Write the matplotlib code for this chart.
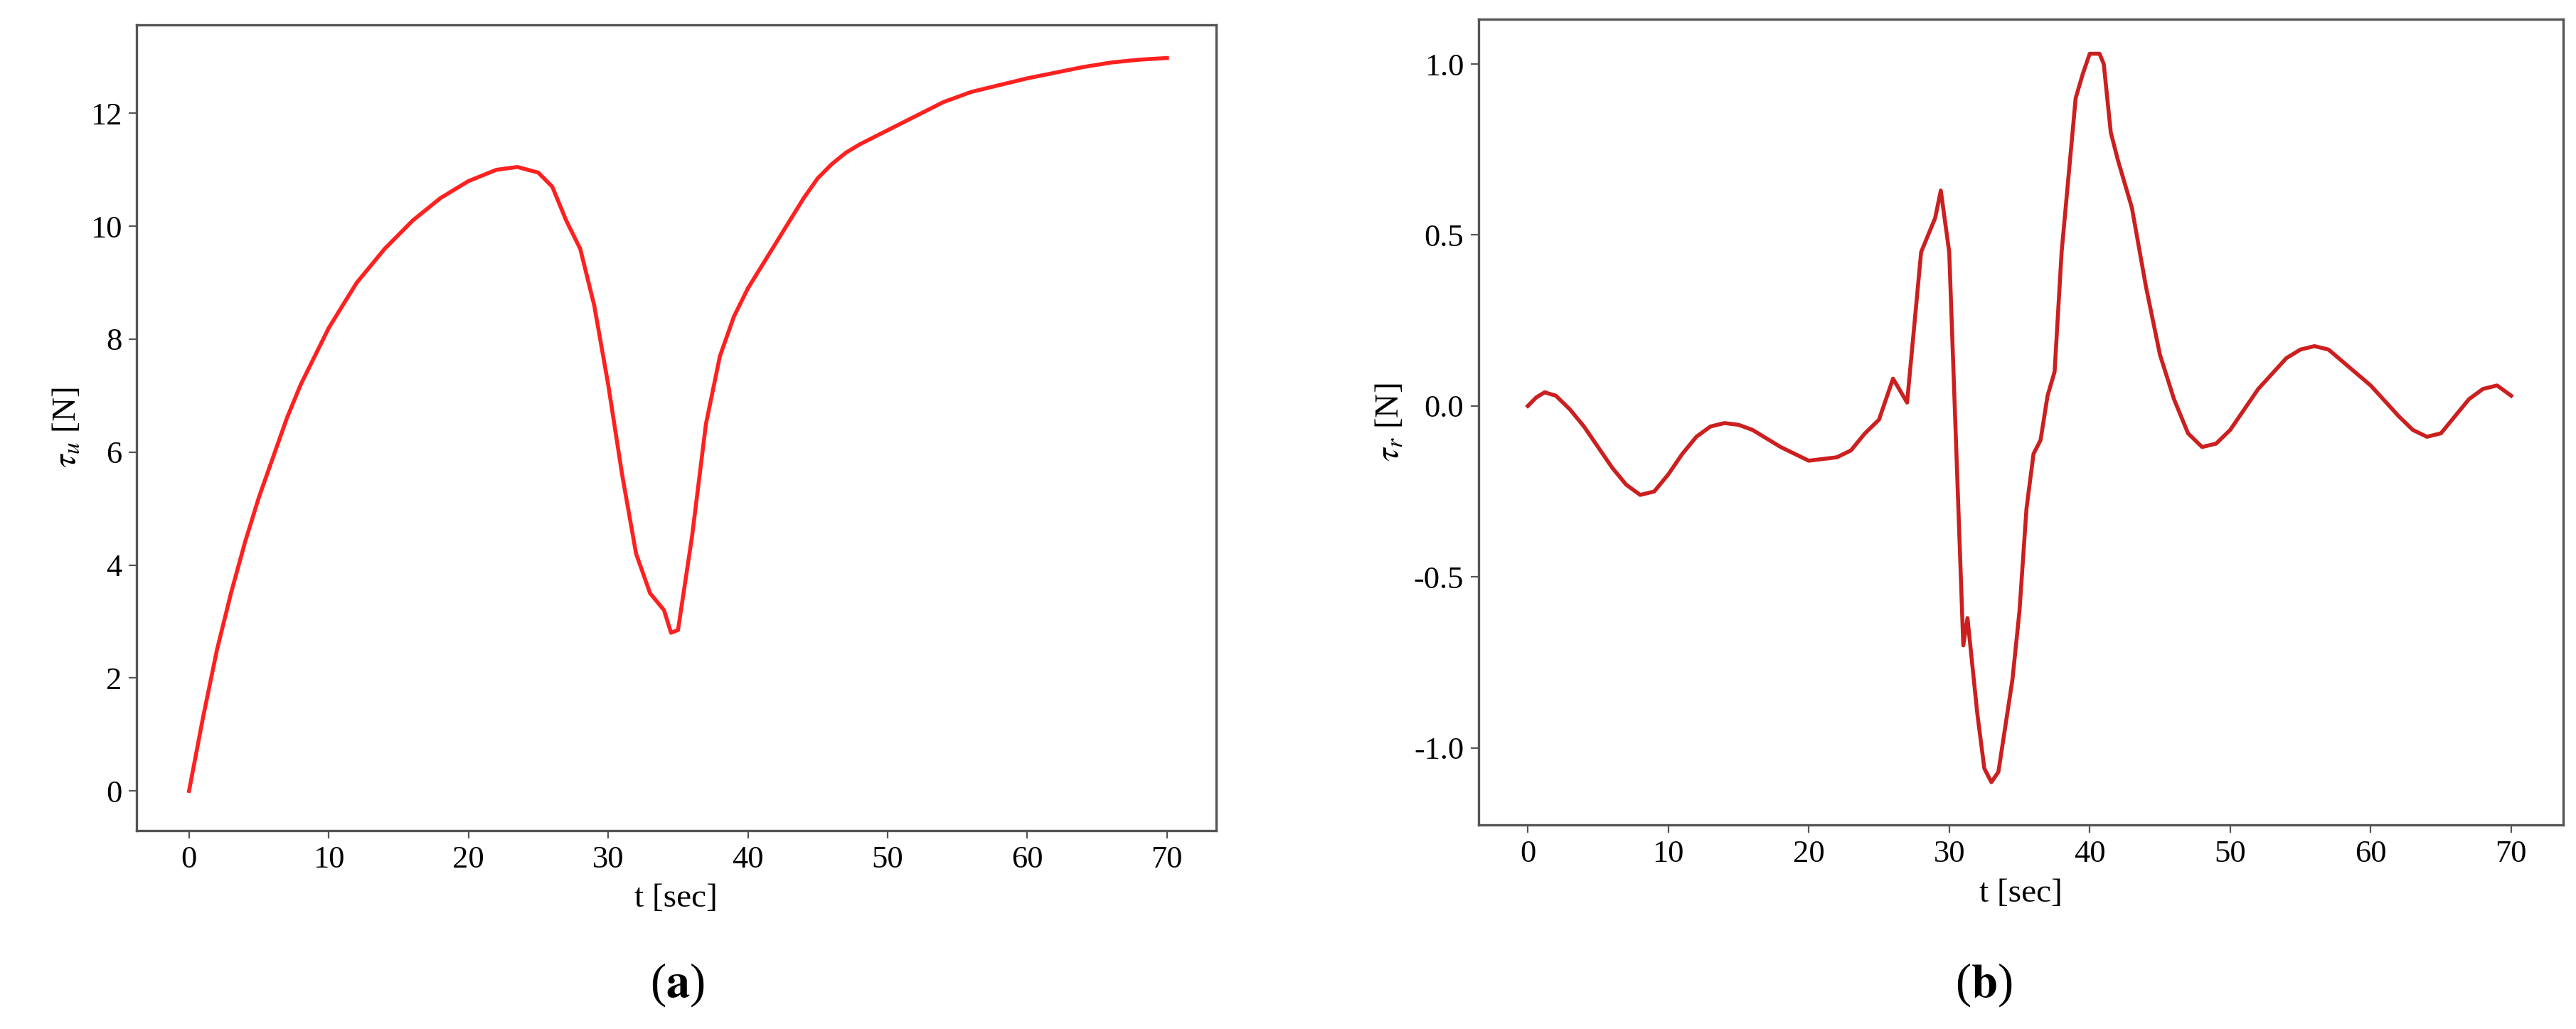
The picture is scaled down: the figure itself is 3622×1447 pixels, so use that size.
import matplotlib
matplotlib.use('Agg')
from matplotlib import pyplot as plt

plt.rcParams['font.family'] = ['Liberation Serif', 'DejaVu Serif']
plt.rcParams['mathtext.fontset'] = 'stix'

t_u = [0, 1, 2, 3, 4, 5, 6, 7, 8, 9, 10, 11, 12, 13, 14, 15, 16, 18, 20, 22, 23.5, 25, 26, 27,
       28, 29, 30, 31, 32, 33, 34, 34.5, 35, 36, 37, 38, 39, 40, 42, 44, 45, 46, 47, 48, 50,
       52, 54, 56, 58, 60, 62, 64, 66, 68, 70]
tau_u = [0, 1.3, 2.5, 3.5, 4.4, 5.2, 5.9, 6.6, 7.2, 7.7, 8.2, 8.6, 9.0, 9.3, 9.6, 9.85, 10.1,
         10.5, 10.8, 11.0, 11.05, 10.95, 10.7, 10.1, 9.6, 8.6, 7.2, 5.6, 4.2, 3.5, 3.2, 2.8,
         2.85, 4.5, 6.5, 7.7, 8.4, 8.9, 9.7, 10.5, 10.85, 11.1, 11.3, 11.45, 11.7, 11.95, 12.2,
         12.38, 12.5, 12.62, 12.72, 12.82, 12.9, 12.95, 12.98]

t_r = [0, 0.6, 1.2, 2, 3, 4, 5, 6, 7, 8, 9, 10, 11, 12, 13, 14, 15, 16, 18, 20, 22, 23, 24, 25,
       26, 27, 28, 28.5, 29, 29.4, 30, 31, 31.3, 32, 32.5, 33, 33.5, 34.5, 35, 35.5, 36, 36.5,
       37, 37.5, 38, 39, 39.5, 40, 40.7, 41, 41.5, 42, 43, 44, 45, 46, 47, 48, 49, 50, 51, 52,
       54, 55, 56, 57, 58, 60, 62, 63, 64, 65, 66, 67, 68, 69, 70]
tau_r = [0, 0.025, 0.04, 0.03, -0.01, -0.06, -0.12, -0.18, -0.23, -0.26, -0.25, -0.2, -0.14,
         -0.09, -0.06, -0.05, -0.055, -0.07, -0.12, -0.16, -0.15, -0.13, -0.08, -0.04, 0.08,
         0.01, 0.45, 0.5, 0.55, 0.63, 0.45, -0.7, -0.62, -0.9, -1.06, -1.1, -1.07, -0.8, -0.6,
         -0.3, -0.14, -0.1, 0.03, 0.1, 0.45, 0.9, 0.97, 1.03, 1.03, 1.0, 0.8, 0.72, 0.58, 0.35,
         0.15, 0.02, -0.08, -0.12, -0.11, -0.07, -0.01, 0.05, 0.14, 0.165, 0.175, 0.165, 0.13,
         0.06, -0.03, -0.07, -0.09, -0.08, -0.03, 0.02, 0.05, 0.06, 0.03]

fig = plt.figure(figsize=(18.11, 7.235), dpi=200)
ax1 = fig.add_axes([0.053, 0.193, 0.419, 0.783])
ax2 = fig.add_axes([0.574, 0.198, 0.421, 0.783])

ax1.plot(t_u, tau_u, color='#ff2020', lw=2)
ax1.set_xlim(-3.76, 73.5)
ax1.set_ylim(-0.7, 13.57)
ax1.set_yticks(range(0, 13, 2))
ax1.set_ylabel(r'$\tau_u$ [N]', fontsize=17)

ax2.plot(t_r, tau_r, color='#cc1f1f', lw=2)
ax2.set_xlim(-3.5, 73.7)
ax2.set_ylim(-1.226, 1.13)
ax2.set_yticks([-1.0, -0.5, 0.0, 0.5, 1.0])
ax2.set_yticklabels(['-1.0', '-0.5', '0.0', '0.5', '1.0'])
ax2.set_ylabel(r'$\tau_r$ [N]', fontsize=17)

for ax in (ax1, ax2):
    ax.set_xticks(range(0, 71, 10))
    ax.set_xlabel('t [sec]', fontsize=17, labelpad=5)
    ax.tick_params(labelsize=16, length=4, color='#555555')
    for s in ax.spines.values():
        s.set_color('#555555')
        s.set_linewidth(1.2)

fig.text(0.263, 0.043, r'($\mathbf{a}$)', ha='center', va='center', fontsize=24)
fig.text(0.770, 0.043, r'($\mathbf{b}$)', ha='center', va='center', fontsize=24)

fig.savefig('out.png')
